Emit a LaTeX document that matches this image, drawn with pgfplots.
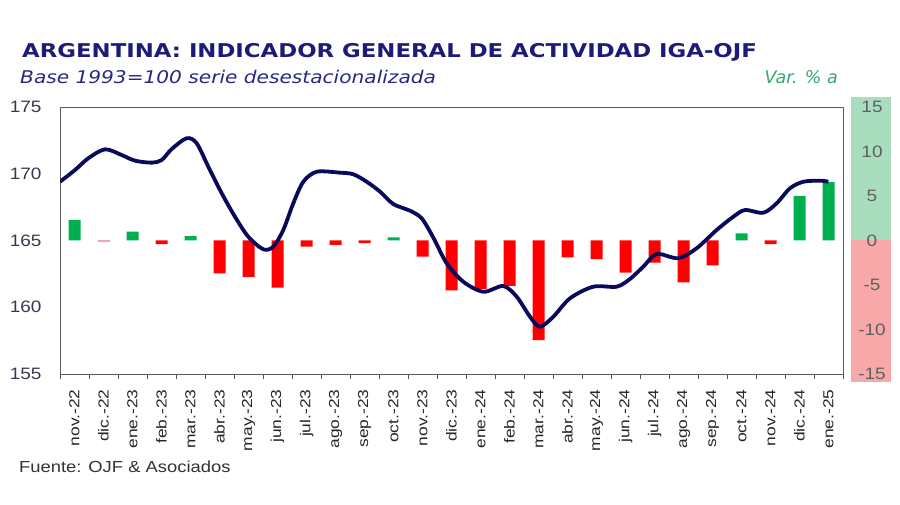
\documentclass[border=0pt]{standalone}
\usepackage{fontspec}
\usepackage{pgfplots}
\pgfplotsset{compat=1.18}
\setmainfont{Liberation Sans}
\newfontfamily\arialw{Liberation Sans}[FakeStretch=1.15]
\newfontfamily\arialx{Liberation Sans}[FakeStretch=1.2]
\newfontfamily\verd{DejaVu Sans}
\newfontfamily\verdb{DejaVu Sans Bold}[FakeStretch=1.2]
\newfontfamily\verdi{DejaVu Sans Oblique}[FakeStretch=1.15]
\definecolor{titlec}{RGB}{28,28,120}
\definecolor{subc}{RGB}{40,40,130}
\definecolor{varc}{RGB}{50,170,110}
\definecolor{linec}{RGB}{10,10,90}
\definecolor{gbar}{RGB}{0,176,80}
\definecolor{rbar}{RGB}{255,0,0}
\definecolor{pbar}{RGB}{240,165,175}
\definecolor{bandg}{RGB}{168,222,190}
\definecolor{bandr}{RGB}{247,168,168}
\definecolor{rgray}{RGB}{95,95,95}
\definecolor{lgray}{RGB}{55,55,80}
\definecolor{framec}{RGB}{90,90,90}
\begin{document}
\begin{tikzpicture}
\useasboundingbox (0pt,0pt) rectangle (900pt,505pt);
\fill[bandg] (851pt,264.5pt) rectangle (891pt,408pt);
\fill[bandr] (851pt,123pt) rectangle (891pt,264.5pt);
\node[anchor=base west, inner sep=0, text=titlec, font=\verdb\fontsize{19}{21}\selectfont] at (22pt,447.7pt) {ARGENTINA: INDICADOR GENERAL DE ACTIVIDAD IGA-OJF};
\node[anchor=base west, inner sep=0, text=subc, font=\verdi\fontsize{17.5}{20}\selectfont] at (20pt,421.7pt) {Base 1993=100 serie desestacionalizada};
\node[anchor=base east, inner sep=0, text=varc, font=\verd\itshape\fontsize{17.5}{20}\selectfont] at (838pt,421.7pt) {Var. \% a};
\node[anchor=base west, inner sep=0, text=black!80, font=\arialw\fontsize{16}{18}\selectfont] at (19pt,32pt) {Fuente: OJF \& Asociados};

% bars, right axis
\begin{axis}[at={(60pt,131pt)}, anchor=south west, scale only axis,
  width=783pt, height=267pt,
  xmin=-0.5, xmax=26.5, ymin=-15, ymax=15,
  hide x axis,
  axis y line*=right, y axis line style={draw=none},
  ytick={-15,-10,...,15}, major tick length=0pt,
  /pgf/number format/assume math mode=true,
  yticklabel style={font=\arialw\fontsize{16.5}{18}\selectfont, text=rgray, anchor=center, xshift=29pt},
  clip=false]
\addplot[ybar, bar width=12pt, bar shift=0pt, fill=gbar, draw=none] coordinates {
(0,2.3) (2,1.0) (4,0.5) (11,0.35) (23,0.8) (25,5.0) (26,6.6)};
\addplot[ybar, bar width=12pt, bar shift=0pt, fill=rbar, draw=none] coordinates {
(3,-0.4) (5,-3.7) (6,-4.1) (7,-5.3) (8,-0.7) (9,-0.5) (10,-0.3) (12,-1.8)
(13,-5.6) (14,-5.45) (15,-5.1) (16,-11.2) (17,-1.9) (18,-2.1) (19,-3.6)
(20,-2.5) (21,-4.7) (22,-2.8) (24,-0.4)};
\addplot[ybar, bar width=12pt, bar shift=0pt, fill=pbar, draw=none] coordinates {(1,-0.12)};
\end{axis}

% line, left axis
\begin{axis}[at={(60pt,131pt)}, anchor=south west, scale only axis,
  width=783pt, height=267pt,
  xmin=-0.5, xmax=26.5, ymin=155, ymax=175,
  axis line style={framec, line width=0.9pt},
  ytick={155,160,...,175}, ytick pos=left,
  xtick={0,...,26}, xtick pos=bottom,
  xticklabels={nov.-22,dic.-22,ene.-23,feb.-23,mar.-23,abr.-23,may.-23,jun.-23,jul.-23,ago.-23,sep.-23,oct.-23,nov.-23,dic.-23,ene.-24,feb.-24,mar.-24,abr.-24,may.-24,jun.-24,jul.-24,ago.-24,sep.-24,oct.-24,nov.-24,dic.-24,ene.-25},
  xticklabel style={rotate=90, anchor=east, font=\arialx\fontsize{14.5}{17}\selectfont, text=black!85},
  xticklabel shift=12pt,
  /pgf/number format/assume math mode=true,
  yticklabel style={font=\arialw\fontsize{16.5}{18}\selectfont, text=lgray, xshift=-15pt},
  major tick length=0pt,
  minor xtick={-0.5,0.5,...,26.5}, minor tick length=5pt,
  tick align=outside, minor tick style={framec, line width=0.9pt},
  ]
\addplot[linec, line width=3.8pt, smooth] coordinates {
(-0.5,169.40) (0.017,170.28) (0.476,171.16) (1.052,171.83) (1.628,171.40)
(2.086,170.98) (2.662,170.83) (3.007,171.03) (3.352,171.85) (3.869,172.66)
(4.214,172.28) (4.614,170.53) (5.076,168.54) (5.534,166.78) (5.993,165.28)
(6.510,164.34) (6.855,164.54) (7.200,165.79) (7.545,167.79) (7.890,169.40)
(8.352,170.15) (9.155,170.08) (9.614,169.96) (10.076,169.40) (10.534,168.66)
(10.993,167.73) (11.569,167.23) (11.972,166.66) (12.372,165.22) (12.834,163.29)
(13.407,161.91) (14.097,161.16) (14.786,161.59) (15.248,160.79) (15.707,159.29)
(16.052,158.54) (16.510,159.29) (17.086,160.67) (17.890,161.54) (18.697,161.54)
(19.155,162.12) (19.614,163.04) (20.076,163.99) (20.821,163.67) (21.455,164.42)
(22.145,165.79) (22.717,166.78) (23.121,167.28) (23.752,167.08) (24.214,167.79)
(24.672,168.91) (25.131,169.40) (25.707,169.48) (25.993,169.40)};
\end{axis}
\end{tikzpicture}
\end{document}
